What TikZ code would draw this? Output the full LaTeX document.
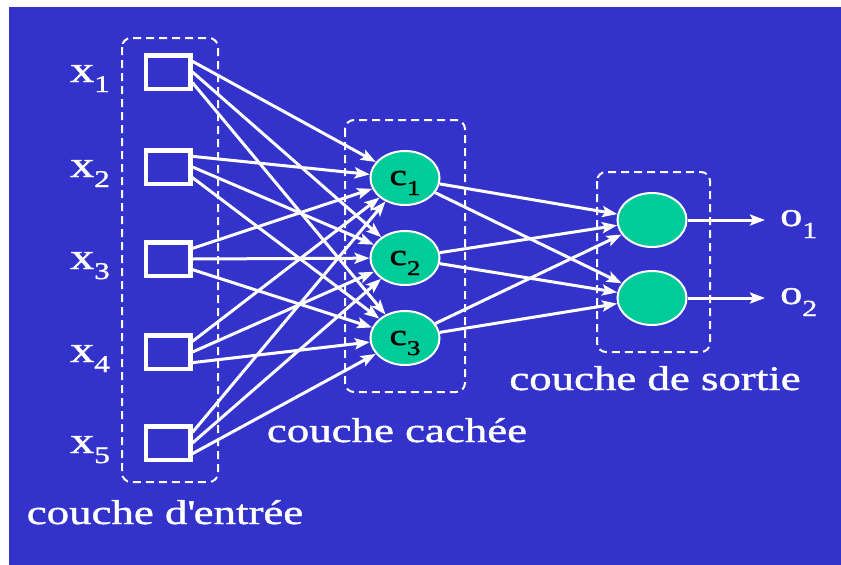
\documentclass[tikz,border=0pt]{standalone}
\usepackage{fontspec}
\setmainfont{Liberation Serif}[FakeStretch=1.3,FakeBold=1.2]
\usetikzlibrary{shapes.geometric,arrows.meta,calc}
\definecolor{bg}{RGB}{51,51,204}
\definecolor{neur}{RGB}{0,204,153}
\newcommand{\lowsub}[3]{\raisebox{-#2pt}{\fontsize{#1pt}{#1pt}\selectfont #3}}
\newcommand{\fs}[1]{\fontsize{#1pt}{#1pt}\selectfont}
\begin{document}
\begin{tikzpicture}[x=1pt,y=-1pt,
  inbox/.style={draw=white,line width=4.5pt,minimum width=44.5pt,minimum height=33.5pt,inner sep=0pt},
  neuron/.style={ellipse,draw=white,line width=2pt,fill=neur,minimum width=69pt,minimum height=54pt,inner sep=0pt},
  layerbox/.style={draw=white,dash pattern=on 8pt off 5pt,line width=2pt,rounded corners=9pt},
  conn/.style={draw=white,line width=3pt,-{Stealth[length=15pt,width=11pt,inset=3pt]}},
  lbl/.style={text=white,inner sep=0pt,anchor=base},
]
\useasboundingbox (0,0) rectangle (841,565);
\fill[white] (0,0) rectangle (841,565);
\fill[bg] (9,7) rectangle (841,565);

% layer frames
\draw[layerbox] (122,38) rectangle (218,482);
\draw[layerbox] (345,120) rectangle (465,392);
\draw[layerbox] (597,172) rectangle (710,352);

% input nodes
\node[inbox] (x1) at (168,72) {};
\node[inbox] (x2) at (168,167) {};
\node[inbox] (x3) at (168,259) {};
\node[inbox] (x4) at (168,352) {};
\node[inbox] (x5) at (168,443) {};

% hidden nodes
\node[neuron] (c1) at (405,178) {};
\node[neuron] (c2) at (405,258) {};
\node[neuron] (c3) at (405,338) {};

% output nodes
\node[neuron] (o1) at (652,220) {};
\node[neuron] (o2) at (652,298) {};
\coordinate (y1) at (765,220);
\coordinate (y2) at (765,298);

% input labels
\foreach \i/\b in {1/82,2/177,3/269,4/362,5/453}{
  \node[lbl,anchor=base west] (lx\i) at (70,\b) {\fs{37}x\lowsub{24}{10}{\i}};
}
% hidden labels
\foreach \j/\b in {1/185,2/265,3/345}{
  \node[inner sep=0pt,anchor=base,text=black] (lc\j) at (405,\b) {\fs{30}c\lowsub{21}{10}{\j}};
}
% output labels
\node[lbl,anchor=base west] (lo1) at (780,226) {\fs{34}o\lowsub{23}{12}{1}};
\node[lbl,anchor=base west] (lo2) at (780,304) {\fs{34}o\lowsub{23}{12}{2}};

% connections input -> hidden
\foreach \i in {1,...,5}{
  \foreach \j/\f in {1/0.22,2/0.5,3/0.78}{
    \draw[conn] ($(x\i.north east)!\f!(x\i.south east)$) -- (c\j);
  }
}
% hidden -> output
\foreach \j in {1,2,3}{
  \draw[conn] (c\j) -- (o1);
  \draw[conn] (c\j) -- (o2);
}
\draw[conn] (o1) -- (y1);
\draw[conn] (o2) -- (y2);

% layer names
\node[lbl] (n1) at (165,524) {\fs{34.5}couche d\textquotesingle entrée};
\node[lbl] (n2) at (397,442) {\fs{34.5}couche cachée};
\node[lbl] (n3) at (655,390) {\fs{34.5}couche de sortie};
\end{tikzpicture}
\end{document}
